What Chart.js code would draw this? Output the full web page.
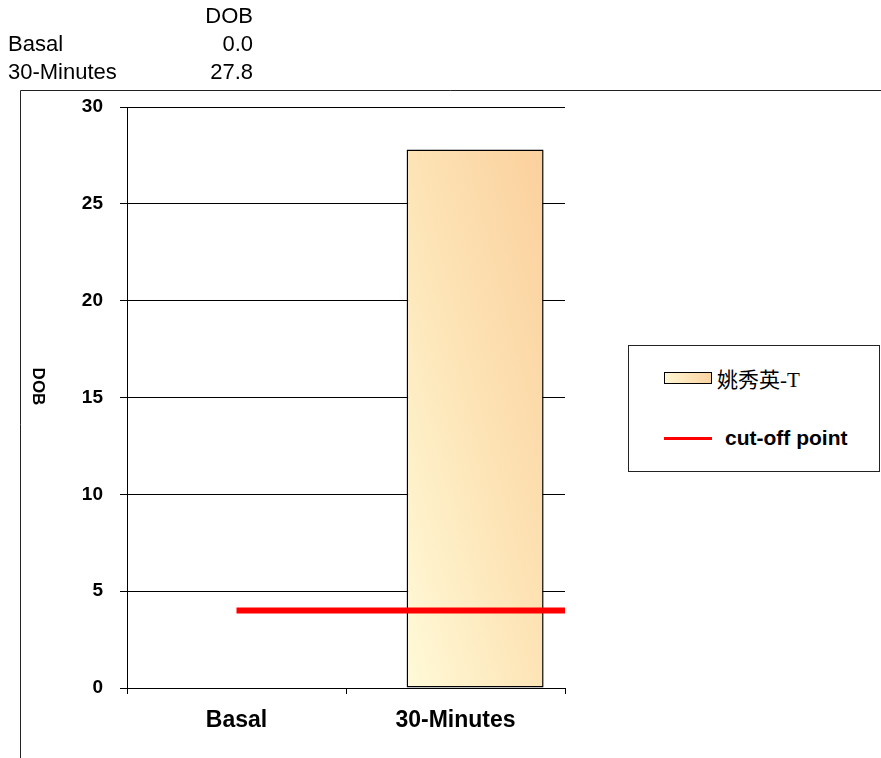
<!DOCTYPE html>
<html>
<head>
<meta charset="utf-8">
<script src="https://cdn.jsdelivr.net/npm/chart.js@4"></script>
<style>
  html, body { margin: 0; padding: 0; background: #fff; }
  #wrap { position: relative; width: 881px; height: 758px; overflow: hidden; }
  #c { position: absolute; left: 0; top: 0; }
  .t { position: absolute; font-family: "Liberation Sans", Arial, sans-serif; font-size: 22px; line-height: 24px; color: #000; white-space: nowrap; }
  #legend { position: absolute; left: 628px; top: 345px; width: 252px; height: 127px; border: 1px solid #222; background: #fff; box-sizing: border-box; }
  .lrow { position: absolute; left: 35px; display: flex; align-items: center; }
  .sw { width: 48px; height: 12px; border: 1px solid #000; box-sizing: border-box;
        background: linear-gradient(to right, #FFF6D2, #FAD3A2); }
  .ln { width: 48px; height: 3px; background: #FF0000; }
</style>
</head>
<body>
<div id="wrap">
  <canvas id="c" width="881" height="758"></canvas>
  <div class="t" style="left:140px; width:113px; text-align:right; top:4px;" id="hdr"></div>
  <div class="t" style="left:8px; top:32px;" id="r0n"></div>
  <div class="t" style="left:140px; width:113px; text-align:right; top:32px;" id="r0v"></div>
  <div class="t" style="left:8px; top:60px;" id="r1n"></div>
  <div class="t" style="left:140px; width:113px; text-align:right; top:60px;" id="r1v"></div>
  <div id="legend">
    <div class="lrow" style="top:17px;">
      <div class="sw"></div>
      <span id="lg0" style="margin-left:5px; font-family:'Liberation Serif','Noto Sans CJK SC',serif; font-size:21px;"></span>
    </div>
    <div class="lrow" style="top:80px;">
      <div class="ln"></div>
      <span id="lg1" style="margin-left:13px; font-family:'Liberation Sans',Arial,sans-serif; font-weight:bold; font-size:21px;"></span>
    </div>
  </div>
</div>
<script>
// ---- data ----
const categories = ['Basal', '30-Minutes'];
const seriesName = '姚秀英-T';
const dobValues = [0.0, 27.8];
const spacerValues = [0, 0];
const cutoffName = 'cut-off point';
const cutoffValues = [4, 4];
const cutoffSpan = [0, 1.5];        // category-index span of the cut-off line
const yAxisTitle = 'DOB';
const yMin = 0, yMax = 30, yStep = 5;

// ---- table + legend text ----
document.getElementById('hdr').textContent = yAxisTitle;
document.getElementById('r0n').textContent = categories[0];
document.getElementById('r0v').textContent = dobValues[0].toFixed(1);
document.getElementById('r1n').textContent = categories[1];
document.getElementById('r1v').textContent = dobValues[1].toFixed(1);
document.getElementById('lg0').textContent = seriesName;
document.getElementById('lg1').textContent = cutoffName;

const FONT = "'Liberation Sans', Arial, sans-serif";

// x positions: category centres (i) and boundaries (i - 0.5)
const xTickValues = [];
for (let i = 0; i <= categories.length; i++) {
  xTickValues.push(i - 0.5);
  if (i < categories.length) xTickValues.push(i);
}

const framePlugin = {
  id: 'frame',
  beforeDraw(chart) {
    const ctx = chart.ctx;
    ctx.save();
    ctx.fillStyle = '#fff';
    ctx.fillRect(0, 0, chart.width, chart.height);
    ctx.strokeStyle = '#222';
    ctx.lineWidth = 1;
    ctx.beginPath();
    ctx.moveTo(881, 90.5);
    ctx.lineTo(20.5, 90.5);
    ctx.lineTo(20.5, 758);
    ctx.stroke();
    ctx.restore();
  },
  beforeDatasetsDraw(chart) {
    const meta = chart.getDatasetMeta(1);
    meta.data.forEach(el => {
      const p = el.getProps(['x', 'y', 'base', 'width'], true);
      const w = p.width, h = Math.abs(p.base - p.y);
      if (!(w > 0) || !(h > 0)) return;
      const x0 = p.x - w / 2, yb = p.base;
      const t = 2 * w * h / (w * w + h * h);
      const g = chart.ctx.createLinearGradient(x0, yb, x0 + t * h, yb - t * w);
      g.addColorStop(0, '#FFFAD8');
      g.addColorStop(0.5, '#FDE4B6');
      g.addColorStop(1, '#FBD09D');
      el.options.backgroundColor = g;
    });
  },
  afterDraw(chart) {
    const ctx = chart.ctx;
    const a = chart.chartArea;
    ctx.save();
    ctx.translate(38, (a.top + a.bottom) / 2 - 11);
    ctx.rotate(Math.PI / 2);
    ctx.font = 'bold 17px ' + FONT;
    ctx.fillStyle = '#000';
    ctx.textAlign = 'center';
    ctx.textBaseline = 'middle';
    ctx.fillText(yAxisTitle, 0, 0);
    ctx.restore();
  }
};

new Chart(document.getElementById('c'), {
  type: 'bar',
  data: {
    datasets: [
      {
        label: '',
        data: spacerValues.map((v, i) => ({ x: i, y: v })),
        backgroundColor: 'rgba(0,0,0,0)',
        borderWidth: 0,
        order: 1
      },
      {
        label: seriesName,
        data: dobValues.map((v, i) => ({ x: i, y: v })),
        backgroundColor: () => '#FDE4B6',
        borderColor: '#000',
        borderWidth: 1.5,
        borderSkipped: false,
        order: 2
      },
      {
        type: 'line',
        label: cutoffName,
        data: cutoffSpan.map((x, i) => ({ x: x, y: cutoffValues[i] })),
        borderColor: '#FF0000',
        borderWidth: 6,
        pointRadius: 0,
        fill: false,
        order: 0
      }
    ]
  },
  options: {
    responsive: false,
    animation: false,
    devicePixelRatio: 1,
    layout: { padding: { left: 0, top: 107, right: 316, bottom: 0 } },
    datasets: { bar: { categoryPercentage: 0.716, barPercentage: 3.495 } },
    plugins: { legend: { display: false }, tooltip: { enabled: false }, title: { display: false } },
    scales: {
      x: {
        type: 'linear',
        min: -0.5,
        max: categories.length - 0.5,
        offset: false,
        afterBuildTicks(s) { s.ticks = xTickValues.map(v => ({ value: v })); },
        grid: {
          display: true, drawOnChartArea: false, drawTicks: true, tickLength: 6, lineWidth: 1, offset: false,
          color: c => (c.tick && Number.isInteger(c.tick.value)) ? 'rgba(0,0,0,0)' : '#000'
        },
        border: { display: true, color: '#000', width: 1 },
        ticks: {
          autoSkip: false, maxRotation: 0, color: '#000', padding: 13,
          font: { family: FONT, size: 23, weight: 'bold' },
          callback: v => Number.isInteger(v) ? categories[v] : ''
        },
        afterFit(s) { s.height = 70; }
      },
      y: {
        min: yMin,
        max: yMax,
        ticks: { stepSize: yStep, color: '#000', font: { family: FONT, size: 19, weight: 'bold' }, padding: 17 },
        grid: { color: '#000', lineWidth: 1, drawTicks: true, tickLength: 7 },
        border: { display: true, color: '#000', width: 1 },
        afterFit(s) { s.width = 127; }
      }
    }
  },
  plugins: [framePlugin]
});
</script>
</body>
</html>
